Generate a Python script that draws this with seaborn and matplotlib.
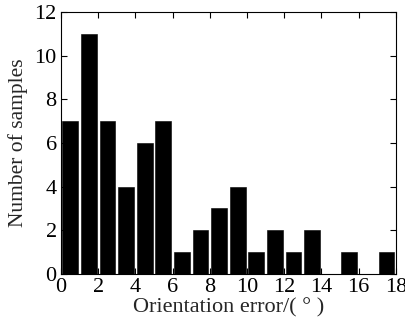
import matplotlib
matplotlib.use("Agg")
import matplotlib.pyplot as plt
import seaborn as sns
import numpy as np

bin_edges = list(range(0, 19))
bin_centers = [i + 0.5 for i in range(18)]
counts = [7, 11, 7, 4, 6, 7, 1, 2, 3, 4, 1, 2, 1, 2, 0, 1, 0, 1]
xticks = [0, 2, 4, 6, 8, 10, 12, 14, 16, 18]
yticks = [0, 2, 4, 6, 8, 10, 12]

sns.set_style("ticks")
plt.rcParams['font.family'] = ['Liberation Serif', 'DejaVu Serif']

fig = plt.figure(figsize=(4.06, 3.26), dpi=100)
ax = fig.add_axes([0.150, 0.160, 0.825, 0.803])

sns.histplot(x=bin_centers, weights=counts, bins=bin_edges, shrink=0.85,
             color="black", edgecolor="black", linewidth=0.4, alpha=1, ax=ax)

ax.set_xlim(0, 18)
ax.set_ylim(0, 12)
ax.set_xticks(xticks)
ax.set_yticks(yticks)
ax.tick_params(direction="in", top=True, right=True, length=4, width=0.8,
               labelsize=16, pad=3, colors="black")
for s in ax.spines.values():
    s.set_visible(True)
    s.set_linewidth(0.8)
    s.set_color("black")
ax.set_xlabel("Orientation error/( ° )", fontsize=16, labelpad=1)
ax.set_ylabel("Number of samples", fontsize=15.5, labelpad=5)

fig.savefig("out.png", dpi=100)
